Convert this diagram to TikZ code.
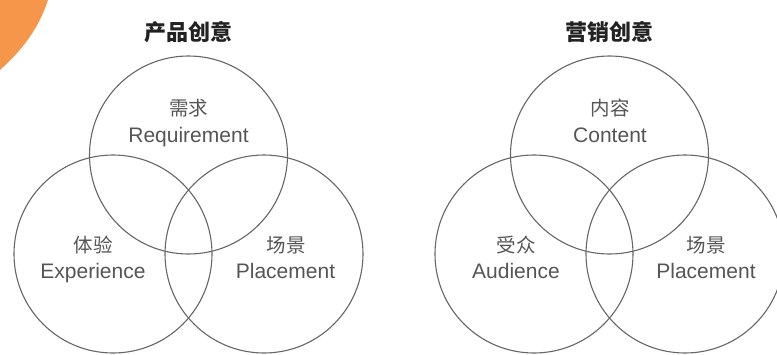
\documentclass[tikz,border=0pt]{standalone}
\usepackage{fontspec}
\setmainfont{Liberation Sans}
\newfontfamily\cjk{Noto Sans CJK SC}
\definecolor{orangeA}{HTML}{F5964A}
\definecolor{ringgray}{HTML}{666666}
\definecolor{labelgray}{HTML}{555555}
\definecolor{titleblack}{HTML}{222222}
\begin{document}
\begin{tikzpicture}[x=1pt,y=-1pt,
  ring/.style={circle,draw=ringgray,line width=1.1pt,minimum size=198pt,inner sep=0pt},
  cjklabel/.style={anchor=base,inner sep=0pt,text=labelgray,font=\cjk\fontsize{19.5}{22}\selectfont},
  enlabel/.style={anchor=base,inner sep=0pt,text=labelgray,font=\fontsize{21}{25}\selectfont},
  titlelabel/.style={anchor=base,inner sep=0pt,text=titleblack,font=\cjk\bfseries\fontsize{22}{26}\selectfont}]
\useasboundingbox (0,0) rectangle (777,354);
\clip (0,0) rectangle (777,354);
\fill[orangeA] (0,0) -- (48,0) .. controls (38,30) and (22,50) .. (0,70) -- cycle;
% left diagram
\node[titlelabel] (t1) at (188.5,40.4) {产品创意};
\node[ring] (c1) at (188.5,155) {};
\node[ring] (c2) at (113,254) {};
\node[ring] (c3) at (264,254) {};
\node[cjklabel] (l1a) at (188.5,115) {需求};
\node[enlabel] (l1b) at (188.5,142) {Requirement};
\node[cjklabel] (l2a) at (93,252.4) {体验};
\node[enlabel] (l2b) at (93,278) {Experience};
\node[cjklabel] (l3a) at (286,252.4) {场景};
\node[enlabel] (l3b) at (285.5,278) {Placement};
% right diagram
\node[titlelabel] (t2) at (609.5,40.4) {营销创意};
\node[ring] (d1) at (609.5,155) {};
\node[ring] (d2) at (534,254) {};
\node[ring] (d3) at (685,254) {};
\node[cjklabel] (m1a) at (610,115) {内容};
\node[enlabel] (m1b) at (610,142) {Content};
\node[cjklabel] (m2a) at (516,252.4) {受众};
\node[enlabel] (m2b) at (516,278) {Audience};
\node[cjklabel] (m3a) at (706,252.4) {场景};
\node[enlabel] (m3b) at (706,278) {Placement};
\end{tikzpicture}
\end{document}
